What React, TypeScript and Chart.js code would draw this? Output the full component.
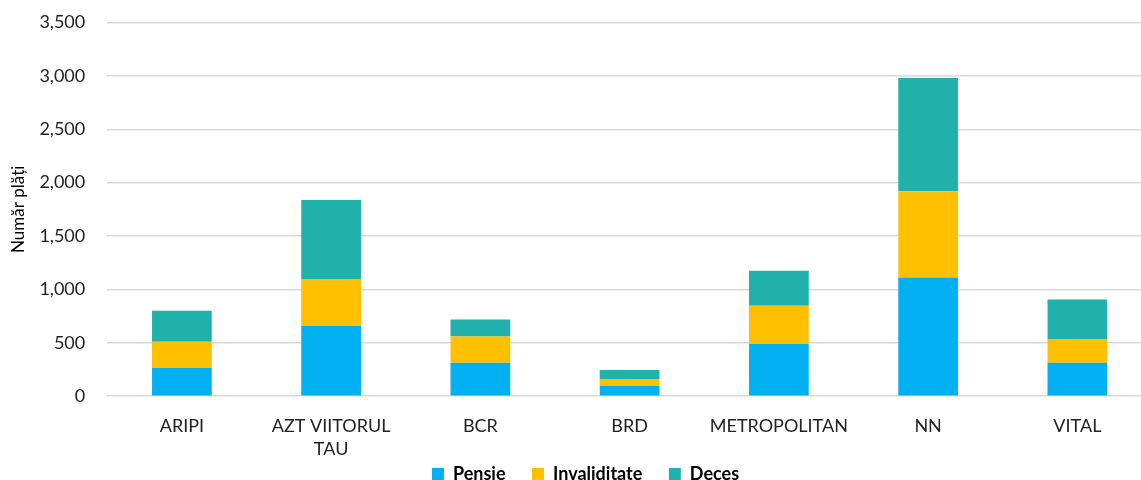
import React, { useEffect, useRef } from "react";
import { Chart, registerables } from "chart.js";

Chart.register(...registerables);

const categories: (string | string[])[] = ["ARIPI", ["AZT VIITORUL", "TAU"], "BCR", "BRD", "METROPOLITAN", "NN", "VITAL"];
const pensie = [264, 660, 314, 98, 489, 1112, 313];
const invaliditate = [246, 437, 246, 63, 357, 808, 223];
const deces = [290, 741, 159, 84, 329, 1060, 369];
const seriesNames = ["Pensie", "Invaliditate", "Deces"];
const seriesColors = ["#00B0F0", "#FFC000", "#20B2AA"];
const yTicks = [0, 500, 1000, 1500, 2000, 2500, 3000, 3500];

const FONT = "Lato, 'Open Sans', sans-serif";
const W = 1152;
const H = 480;

const shiftLegend = {
  id: "shiftLegend",
  afterUpdate(chart: any) {
    const lg = chart.legend;
    if (lg) {
      lg.left += 7.5;
      lg.right += 7.5;
    }
  },
};

export default function App() {
  const ref = useRef<HTMLCanvasElement | null>(null);
  useEffect(() => {
    document.body.style.margin = "0";
    document.body.style.overflow = "hidden";
    if (!ref.current) return;
    const values = [pensie, invaliditate, deces];
    const chart = new Chart(ref.current, {
      type: "bar",
      data: {
        labels: categories,
        datasets: seriesNames.map((n, i) => ({
          label: n,
          data: values[i],
          backgroundColor: seriesColors[i],
          borderWidth: 0,
          categoryPercentage: 1,
          barPercentage: 0.4,
        })),
      },
      plugins: [shiftLegend],
      options: {
        animation: false,
        responsive: false,
        maintainAspectRatio: false,
        locale: "en-US",
        layout: { padding: { top: 22.5, right: 0, left: 4, bottom: -13 } },
        plugins: {
          legend: {
            position: "bottom",
            labels: {
              boxWidth: 12,
              boxHeight: 12,
              padding: 4,
              color: "#000",
              font: { family: FONT, size: 18, weight: "bold" },
              generateLabels: (c: any) => {
                const items = Chart.defaults.plugins.legend.labels.generateLabels(c);
                return items.map((it: any, i: number) => ({
                  ...it,
                  text: i < items.length - 1 ? it.text + "\u2003\u2002" : it.text,
                }));
              },
            },
          },
          tooltip: { enabled: false },
        },
        scales: {
          x: {
            stacked: true,
            grid: { display: false, drawTicks: true, tickLength: 18 },
            border: { display: false },
            ticks: {
              color: "#222",
              font: { family: FONT, size: 18, lineHeight: 1.3 },
              maxRotation: 0,
              autoSkip: false,
              padding: 0,
            },
          },
          y: {
            stacked: true,
            min: 0,
            max: 3500,
            afterBuildTicks: (axis: any) => {
              axis.ticks = yTicks.map((v) => ({ value: v }));
            },
            grid: { color: "#d9d9d9", lineWidth: 1.5, drawTicks: true, tickLength: 22, tickColor: "rgba(0,0,0,0)" },
            border: { display: false },
            ticks: { color: "#222", font: { family: FONT, size: 18 }, padding: 0 },
            title: {
              display: true,
              text: "Număr plăți",
              color: "#000",
              font: { family: FONT, size: 17 },
              padding: { top: 4, bottom: 11 },
            },
          },
        },
      },
    });
    return () => chart.destroy();
  }, []);
  return (
    <div style={{ width: W, height: H }}>
      <canvas ref={ref} width={W} height={H} style={{ width: W, height: H }} />
    </div>
  );
}
